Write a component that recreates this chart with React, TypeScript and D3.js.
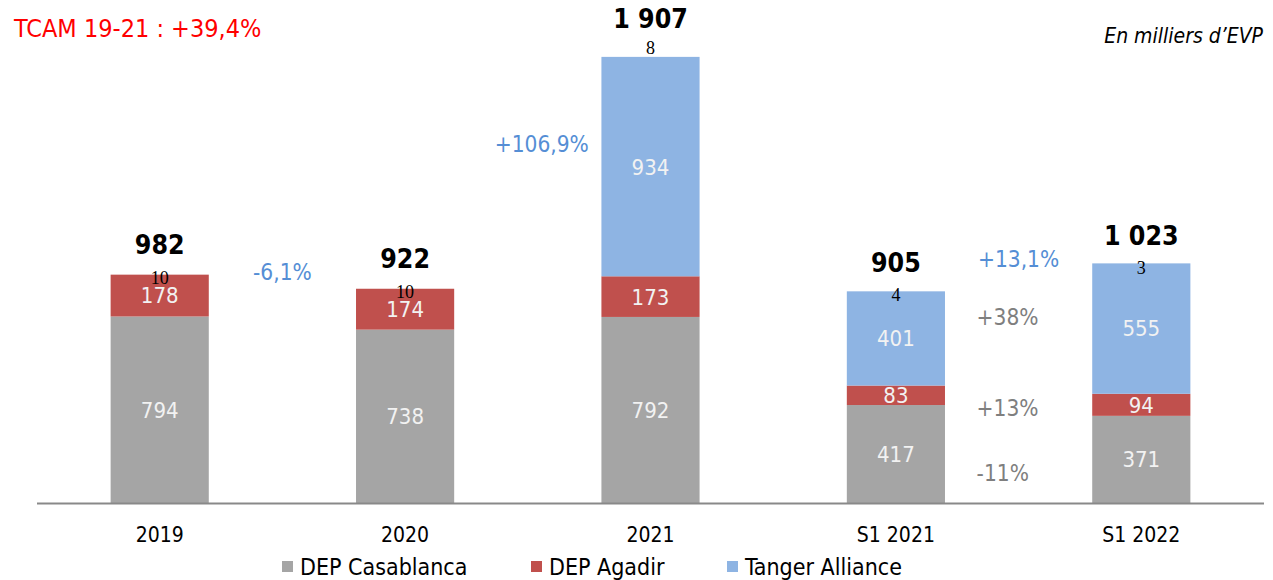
import React from "react";
import * as d3 from "d3";

const categories = ["2019", "2020", "2021", "S1 2021", "S1 2022"];
const casablanca = [794, 738, 792, 417, 371];
const agadir = [178, 174, 173, 83, 94];
const tanger = [0, 0, 934, 401, 555];
const autres = [10, 10, 8, 4, 3];

const seriesNames = ["DEP Casablanca", "DEP Agadir", "Tanger Alliance"];
const colors = ["#A5A5A5", "#C0504D", "#8EB4E3"];

// variations between bars: [from index, to index, label, anchor value]
const growth: [number, number, string, number][] = [
  [0, 1, "-6,1%", 982],
  [1, 2, "+106,9%", 1530],
  [3, 4, "+13,1%", 1040],
];
// per-segment growth S1 2021 -> S1 2022
const segGrowth = ["-11%", "+13%", "+38%"];
const segAnchor = [128, 406, 792];

const W = 1273;
const H = 580;
const FONT = "'DejaVu Sans Condensed', 'DejaVu Sans', sans-serif";

const fmt = d3.formatLocale({
  decimal: ",",
  thousands: " ",
  grouping: [3],
  currency: ["", "€"],
}).format(",d");

export default function App() {
  const rows = categories.map((c, i) => ({
    cat: c,
    casablanca: casablanca[i],
    agadir: agadir[i],
    tanger: tanger[i],
    autres: autres[i],
  }));
  const keys = ["casablanca", "agadir", "tanger", "autres"];
  const stacked = d3.stack<any>().keys(keys)(rows);
  const maxTotal = d3.max(stacked[3], (d) => d[1]) as number;

  const x = d3
    .scaleBand()
    .domain(categories)
    .range([37, 1264])
    .paddingInner(0.6)
    .paddingOuter(0.3);
  const y = d3.scaleLinear().domain([0, 1907]).range([503, 55]);
  const bw = x.bandwidth();
  const cx = (i: number) => (x(categories[i]) as number) + bw / 2;

  return (
    <svg
      width={W}
      height={H}
      style={{ position: "absolute", left: 0, top: 0, background: "#fff" }}
      fontFamily={FONT}
    >
      <text x={14} y={37} fill="#FF0000" fontSize={25}>
        TCAM 19-21 : +39,4%
      </text>
      <text
        x={1263}
        y={43}
        textAnchor="end"
        fontSize={21}
        fontStyle="italic"
        fill="#000"
      >
        En milliers d’EVP
      </text>

      {stacked.slice(0, 3).map((s, si) => (
        <g key={si}>
          {s.map((d, i) =>
            d[1] - d[0] > 0 ? (
              <g key={i}>
                <rect
                  x={x(categories[i])}
                  y={y(d[1])}
                  width={bw}
                  height={y(d[0]) - y(d[1])}
                  fill={colors[si]}
                />
                <text
                  x={cx(i)}
                  y={(y(d[0]) + y(d[1])) / 2}
                  dy="0.36em"
                  textAnchor="middle"
                  fill="#F2F2F2"
                  fontSize={22}
                >
                  {d[1] - d[0]}
                </text>
              </g>
            ) : null
          )}
        </g>
      ))}

      {stacked[3].map((d, i) => {
        const top = d[1] === maxTotal;
        return (
          <text
            key={i}
            x={cx(i)}
            y={top ? y(d[1]) - 7 : (y(d[0]) + y(d[1])) / 2 + 4}
            dy="0.36em"
            textAnchor="middle"
            fontFamily="'Liberation Serif', serif"
            fontSize={18}
            fill="#000"
          >
            {d[1] - d[0]}
          </text>
        );
      })}

      {stacked[3].map((d, i) => (
        <text
          key={i}
          x={cx(i)}
          y={y(d[1]) - (d[1] === maxTotal ? 27 : 18)}
          textAnchor="middle"
          fontSize={26.5}
          fontWeight="bold"
          fill="#000"
        >
          {fmt(d[1])}
        </text>
      ))}

      {growth.map(([a, b, label, v], k) => (
        <text
          key={k}
          x={(cx(a) + cx(b)) / 2 + (k === 1 ? 14 : 0)}
          y={y(v)}
          dy="0.36em"
          textAnchor="middle"
          fill="#558ED5"
          fontSize={22.5}
        >
          {label}
        </text>
      ))}

      {segGrowth.map((label, k) => (
        <text
          key={k}
          x={(cx(3) + cx(4)) / 2 - 42}
          y={y(segAnchor[k])}
          dy="0.36em"
          fill="#7F7F7F"
          fontSize={22.5}
        >
          {label}
        </text>
      ))}

      <line x1={37} x2={1264} y1={y(0) + 0.5} y2={y(0) + 0.5} stroke="#898989" strokeWidth={2} />

      {categories.map((c, i) => (
        <text key={c} x={cx(i)} y={542} textAnchor="middle" fontSize={21} fill="#000">
          {c}
        </text>
      ))}

      {seriesNames.map((n, i) => {
        const lx = [282, 531, 727][i];
        return (
          <g key={n} transform={`translate(${lx},567)`}>
            <rect x={0} y={-6} width={11} height={11} fill={colors[i]} />
            <text x={18} y={0} dy="0.36em" fontSize={23} fill="#000">
              {n}
            </text>
          </g>
        );
      })}
    </svg>
  );
}
